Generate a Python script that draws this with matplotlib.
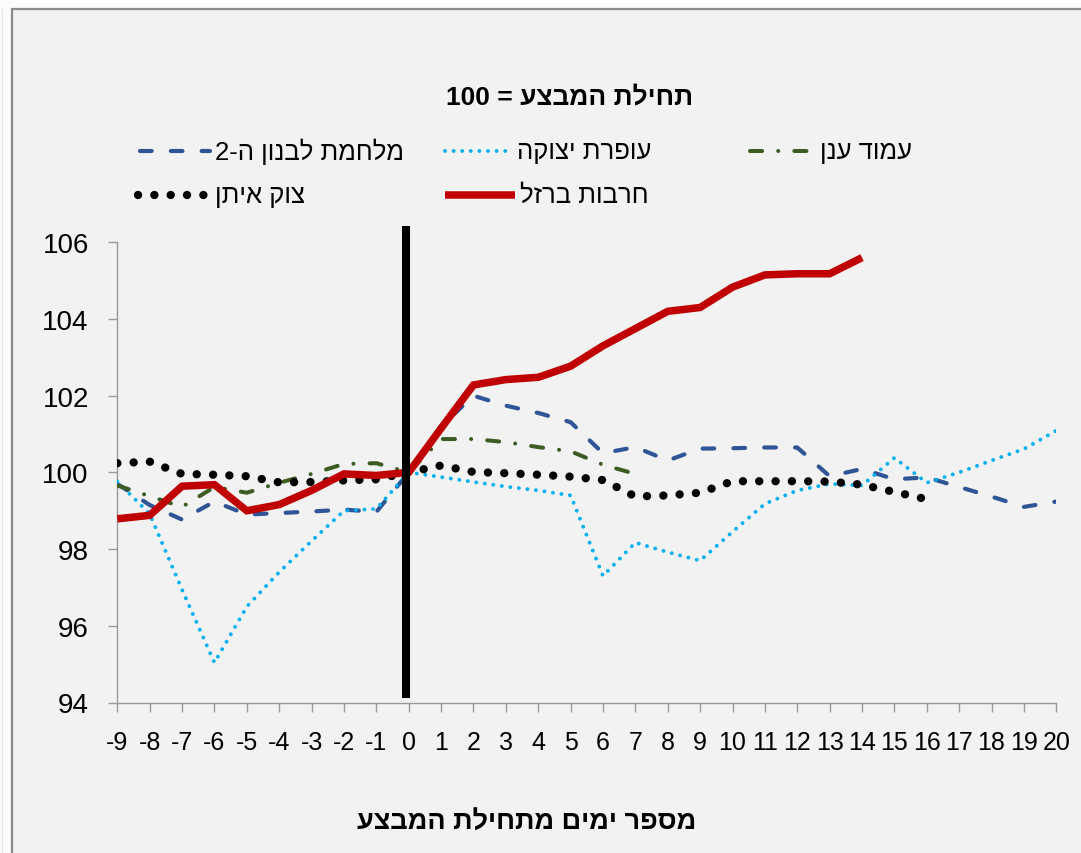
import re
import matplotlib
matplotlib.use("Agg")
import matplotlib.pyplot as plt
from matplotlib.lines import Line2D
from matplotlib.patches import Rectangle

plt.rcParams['font.family'] = ['Liberation Sans', 'DejaVu Sans']

# ---------------- data ----------------
days = list(range(-9, 21))
x_ticklabels = [str(d) for d in days]
y_ticks = [94, 96, 98, 100, 102, 104, 106]

lebanon2 = [99.70, 99.15, 98.77, 99.24, 98.90, 98.94, 98.98, 99.03, 98.97, 100.0,
            101.2, 102.0, 101.74, 101.55, 101.31, 100.50, 100.66, 100.31, 100.62, 100.63,
            100.65, 100.65, 99.90, 100.09, 99.82, 99.87, 99.62, 99.37, 99.10, 99.24]
cast_lead = [99.76, 98.92, 96.94, 95.04, 96.50, 97.40, 98.21, 99.00, 99.05, 100.0,
             99.88, 99.75, 99.63, 99.53, 99.40, 97.30, 98.17, 97.92, 97.70, 98.45,
             99.18, 99.53, 99.70, 99.66, 100.38, 99.73, 100.0, 100.31, 100.61, 101.09]
pillar = [99.66, 99.38, 99.10, 99.62, 99.47, 99.73, 99.96, 100.22, 100.24, 100.0,
          100.87, 100.87, 100.79, 100.66, 100.55, 100.20, 99.96]
protective_edge = [100.24, 100.28, 99.96, 99.94, 99.90, 99.74, 99.75, 99.79, 99.82, 100.0,
                   100.18, 100.01, 99.98, 99.94, 99.89, 99.80, 99.37, 99.40, 99.47, 99.77,
                   99.77, 99.77, 99.76, 99.68, 99.49, 99.30]
iron_swords = [98.79, 98.88, 99.64, 99.68, 99.00, 99.16, 99.53, 99.96, 99.92, 100.0,
               101.15, 102.28, 102.42, 102.48, 102.77, 103.30, 103.75, 104.20, 104.30, 104.83,
               105.15, 105.18, 105.18, 105.60]

name_lebanon2 = "מלחמת לבנון ה-2"
name_cast_lead = "עופרת יצוקה"
name_pillar = "עמוד ענן"
name_protective = "צוק איתן"
name_iron = "חרבות ברזל"
title_text = "תחילת המבצע = 100"
xlabel_text = "מספר ימים מתחילת המבצע"


def vis(s):
    """Visual (left-to-right) order for RTL Hebrew text, keeping digit runs."""
    return re.sub(r'\d+', lambda m: m.group(0)[::-1], s[::-1])


W, H = 1081, 854
fig = plt.figure(figsize=(W / 100, H / 100), dpi=100)
fig.patch.set_facecolor('#fbfbfb')


def fx(px):
    return px / W


def fy(py):
    return 1 - py / H


# chart area frame
fig.add_artist(Rectangle((fx(12), -0.05), 1.1, fy(10) + 0.05, transform=fig.transFigure,
                         facecolor='#f2f2f2', edgecolor='#8a8a8a', lw=1.6, zorder=0))
fig.add_artist(Line2D([fx(2), fx(2)], [0, fy(10)], transform=fig.transFigure,
                      color='#e4e4e4', lw=0.8, zorder=0))

left, right, top, bottom = 117.3, 1056.3, 243.3, 703.5
ax = fig.add_axes([fx(left), fy(bottom), (right - left) / W, (bottom - top) / H])
ax.set_facecolor('none')
ax.set_xlim(-9, 20)
ax.set_ylim(94, 106)

c_blue = '#2f5597'
c_light = '#00b0f0'
c_green = '#3d5c22'
c_red = '#c00000'

styles = {
    'lebanon2': dict(color=c_blue, lw=3.0, dashes=(2.8, 4.6), dash_capstyle='round', solid_capstyle='round'),
    'cast_lead': dict(color=c_light, lw=2.8, dashes=(0.01, 2.2), dash_capstyle='round'),
    'pillar': dict(color=c_green, lw=2.9, dashes=(3.0, 4.0, 0.01, 4.0), dash_capstyle='round'),
    'protective': dict(color='black', lw=6.0, dashes=(0.01, 1.95), dash_capstyle='round'),
    'iron': dict(color=c_red, lw=5.4, solid_capstyle='butt', solid_joinstyle='miter'),
}

ax.plot(days[:len(lebanon2)], lebanon2, zorder=2, **styles['lebanon2'])
ax.plot(days[:len(cast_lead)], cast_lead, zorder=3, **styles['cast_lead'])
ax.plot(days[:len(pillar)], pillar, zorder=4, **styles['pillar'])
ax.plot(days[:len(protective_edge)], protective_edge, zorder=5, **styles['protective'])
ax.plot(days[:len(iron_swords)], iron_swords, zorder=6, **styles['iron'])

# start-of-operation line
ax.axvline(-0.08, ymin=(bottom - 699) / (bottom - top), ymax=(bottom - 227) / (bottom - top),
           color='black', lw=5.8, clip_on=False, zorder=7, solid_capstyle='butt')

for s in ['top', 'right']:
    ax.spines[s].set_visible(False)
for s in ['left', 'bottom']:
    ax.spines[s].set_color('#9a9a9a')
    ax.spines[s].set_linewidth(1.0)

ax.set_xticks(days)
ax.set_xticklabels(x_ticklabels)
ax.set_yticks(y_ticks)
ax.set_yticklabels([str(v) for v in y_ticks])
ax.tick_params(axis='both', direction='out', length=6.5, width=1.0, color='#9a9a9a',
               labelcolor='black')
ax.tick_params(axis='y', labelsize=20, pad=14)
ax.tick_params(axis='x', labelsize=18, pad=13)

# title and axis title
fig.text(fx(570), fy(97), vis(title_text), ha='center', va='center',
         fontsize=19, fontweight='bold')
fig.text(fx(527), fy(822), vis(xlabel_text), ha='center', va='center',
         fontsize=19.5, fontweight='bold')

# legend (manual, Excel-like layout)
legend_items = [
    ('lebanon2', name_lebanon2, 140, 210, 152),
    ('cast_lead', name_cast_lead, 445, 512, 152),
    ('pillar', name_pillar, 750, 815, 152),
    ('protective', name_protective, 138, 210, 196),
    ('iron', name_iron, 445, 515, 196),
]
for key, name, x0, x1, yy in legend_items:
    st = dict(styles[key])
    fig.add_artist(Line2D([fx(x0), fx(x1)], [fy(yy), fy(yy)], transform=fig.transFigure, **st))
    fig.text(fx(x1 + 5), fy(yy), vis(name), ha='left', va='center', fontsize=18.5)

fig.savefig('out.png', dpi=100, facecolor=fig.get_facecolor())
